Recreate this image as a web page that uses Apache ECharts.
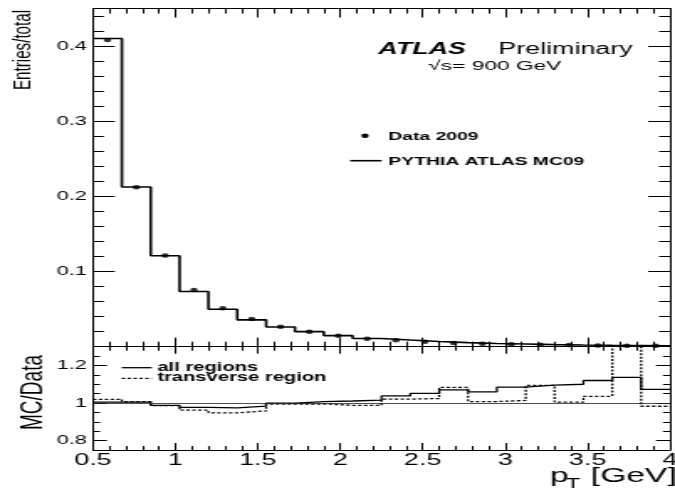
<!DOCTYPE html>
<html>
<head>
<meta charset="utf-8">
<script src="https://cdn.jsdelivr.net/npm/echarts@6/dist/echarts.min.js"></script>
<style>
  html, body { margin: 0; padding: 0; background: #fff; overflow: hidden; }
  #wrap { width: 675px; height: 493px; overflow: hidden; }
  /* the plot is laid out on a narrower canvas and widened, like the original print */
  #chart { width: 402px; height: 493px; transform: scaleX(1.6791); transform-origin: 0 0; }
</style>
</head>
<body>
<div id="wrap"><div id="chart"></div></div>
<script>
// pT bin edges and centres [GeV]
const binEdges = [0.5, 0.675, 0.85, 1.025, 1.2, 1.375, 1.55, 1.725, 1.9, 2.075, 2.25,
                  2.425, 2.6, 2.775, 2.95, 3.125, 3.3, 3.475, 3.65, 3.825, 4.0];
const binCenters = [0.5875, 0.7625, 0.9375, 1.1125, 1.2875, 1.4625, 1.6375, 1.8125, 1.9875, 2.1625,
                    2.3375, 2.5125, 2.6875, 2.8625, 3.0375, 3.2125, 3.3875, 3.5625, 3.7375, 3.9125];

// Entries/total per bin
const dataFrac = [0.408, 0.212, 0.1215, 0.0755, 0.0512, 0.0368, 0.0267, 0.0200, 0.0147, 0.0107,
                  0.0085, 0.0067, 0.0050, 0.0040, 0.0032, 0.0026, 0.0021, 0.0017, 0.0014, 0.0012];
const mcFrac   = [0.410, 0.2125, 0.1210, 0.0735, 0.0498, 0.0357, 0.0262, 0.0200, 0.0148, 0.0109,
                  0.0089, 0.0070, 0.0054, 0.0042, 0.0035, 0.0028, 0.0023, 0.0019, 0.0016, 0.0013];

// MC/Data ratios
const ratioAll   = [1.005, 1.005, 0.988, 0.977, 0.974, 0.984, 1.000, 1.008, 1.011, 1.016,
                    1.038, 1.052, 1.070, 1.059, 1.085, 1.095, 1.100, 1.120, 1.137, 1.073];
const ratioTrans = [1.020, 1.008, 0.986, 0.962, 0.948, 0.958, 0.995, 0.995, 0.988, 0.988,
                    1.021, 1.024, 1.083, 1.008, 1.014, 1.094, 1.005, 1.036, 1.450, 0.983];

// tick labels
const xMajorTicks = [0.5, 1, 1.5, 2, 2.5, 3, 3.5, 4];
const xTickLabels = ['0.5', '1', '1.5', '2', '2.5', '3', '3.5', '4'];
const fracMajorTicks = [0.1, 0.2, 0.3, 0.4];
const fracTickLabels = ['0.1', '0.2', '0.3', '0.4'];
const ratioMajorTicks = [0.8, 1, 1.2];
const ratioTickLabels = ['0.8', '1', '1.2'];

const BLACK = '#000';
const FONT = '"Liberation Sans", Arial, Helvetica, sans-serif';

function steps(a, b, d) {
  const out = [];
  for (let v = a; v <= b + 1e-9; v += d) out.push(+v.toFixed(4));
  return out;
}
const xMinorTicks = steps(0.5, 4, 0.1);
const fracMinorTicks = steps(0.02, 0.44, 0.02);
const ratioMinorTicks = steps(0.75, 1.3, 0.05);

// histogram outline: one point per bin edge, the last bin value repeated at the upper edge
function histo(values) {
  return binEdges.map((e, i) => [e, values[Math.min(i, values.length - 1)]]);
}

function labelFor(ticks, labels) {
  return v => {
    const i = ticks.findIndex(t => Math.abs(t - v) < 1e-6);
    return i >= 0 ? labels[i] : '';
  };
}

function axis(dim, grid, pos, min, max, ticks, len, showLine, label) {
  return {
    type: 'value', gridIndex: grid, position: pos, min: min, max: max,
    splitLine: { show: false },
    minorTick: { show: false },
    axisLine: { show: showLine, onZero: false, lineStyle: { color: BLACK, width: 1 } },
    axisTick: { show: true, inside: true, length: len, customValues: ticks,
                lineStyle: { color: BLACK, width: 1 } },
    axisLabel: label || { show: false },
    silent: true
  };
}

const GRID_LEFT = 55.4, GRID_RIGHT = 3.0;

const option = {
  animation: false,
  textStyle: { fontFamily: FONT },
  grid: [
    { left: GRID_LEFT, right: GRID_RIGHT, top: 8.5, height: 338.2, containLabel: false, outerBoundsMode: 'none' },
    { left: GRID_LEFT, right: GRID_RIGHT, top: 346.7, height: 103.3, containLabel: false, outerBoundsMode: 'none' }
  ],
  xAxis: [
    axis('x', 0, 'bottom', 0.5, 4, xMajorTicks, 9, true),
    axis('x', 0, 'bottom', 0.5, 4, xMinorTicks, 5, false),
    axis('x', 0, 'top', 0.5, 4, xMajorTicks, 9, true),
    axis('x', 0, 'top', 0.5, 4, xMinorTicks, 5, false),
    axis('x', 1, 'bottom', 0.5, 4, xMajorTicks, 7, true, {
      show: true, customValues: xMajorTicks, formatter: labelFor(xMajorTicks, xTickLabels),
      fontSize: 16, color: BLACK, margin: 2.5, fontFamily: FONT
    }),
    axis('x', 1, 'bottom', 0.5, 4, xMinorTicks, 4, false),
    axis('x', 1, 'top', 0.5, 4, xMajorTicks, 7, true),
    axis('x', 1, 'top', 0.5, 4, xMinorTicks, 4, false)
  ],
  yAxis: [
    axis('y', 0, 'left', 0, 0.45, fracMajorTicks, 13, true, {
      show: true, customValues: fracMajorTicks, formatter: labelFor(fracMajorTicks, fracTickLabels),
      fontSize: 13, color: BLACK, margin: 3.6, fontFamily: FONT
    }),
    axis('y', 0, 'left', 0, 0.45, fracMinorTicks, 6.5, false),
    axis('y', 0, 'right', 0, 0.45, fracMajorTicks, 13, true),
    axis('y', 0, 'right', 0, 0.45, fracMinorTicks, 6.5, false),
    axis('y', 1, 'left', 0.75, 1.3, ratioMajorTicks, 8.3, true, {
      show: true, customValues: ratioMajorTicks, formatter: labelFor(ratioMajorTicks, ratioTickLabels),
      fontSize: 13, color: BLACK, margin: 3.6, fontFamily: FONT
    }),
    axis('y', 1, 'left', 0.75, 1.3, ratioMinorTicks, 4.2, false),
    axis('y', 1, 'right', 0.75, 1.3, ratioMajorTicks, 8.3, true),
    axis('y', 1, 'right', 0.75, 1.3, ratioMinorTicks, 4.2, false)
  ],
  series: [
    {
      type: 'line', name: 'PYTHIA ATLAS MC09', xAxisIndex: 0, yAxisIndex: 0,
      step: 'end', data: histo(mcFrac), symbol: 'none', silent: true, z: 3,
      lineStyle: { color: BLACK, width: 1.6 }
    },
    {
      type: 'scatter', name: 'Data 2009', xAxisIndex: 0, yAxisIndex: 0,
      data: binCenters.map((x, i) => [x, dataFrac[i]]), symbol: 'circle', symbolSize: 4.5,
      itemStyle: { color: BLACK }, silent: true, z: 4
    },
    {
      type: 'line', name: 'all regions', xAxisIndex: 4, yAxisIndex: 4,
      step: 'end', data: histo(ratioAll), symbol: 'none', silent: true, z: 3,
      lineStyle: { color: BLACK, width: 1.3 },
      markLine: {
        silent: true, symbol: 'none', label: { show: false },
        lineStyle: { color: '#222', width: 0.8, type: 'solid' },
        data: [{ yAxis: 1 }]
      }
    },
    {
      type: 'line', name: 'transverse region', xAxisIndex: 4, yAxisIndex: 4,
      step: 'end', data: histo(ratioTrans), symbol: 'none', silent: true, z: 3,
      lineStyle: { color: BLACK, width: 1.3, type: [2, 1.5] }
    }
  ],
  graphic: [
    // axis titles
    { type: 'text', x: 13.7, y: 50, rotation: Math.PI / 2, silent: true,
      style: { text: 'Entries/total', fontSize: 15.2, fontFamily: FONT, fill: BLACK,
               textAlign: 'center', textVerticalAlign: 'middle' } },
    { type: 'text', x: 20.2, y: 392.5, rotation: Math.PI / 2, silent: true,
      style: { text: 'MC/Data', fontSize: 19, fontFamily: FONT, fill: BLACK,
               textAlign: 'center', textVerticalAlign: 'middle' } },
    { type: 'text', x: 327.6, y: 476, silent: true,
      style: { text: 'p', fontSize: 20, fontFamily: FONT, fill: BLACK,
               textAlign: 'left', textVerticalAlign: 'middle' } },
    { type: 'text', x: 337.0, y: 483.8, silent: true,
      style: { text: 'T', fontSize: 14, fontFamily: FONT, fill: BLACK,
               textAlign: 'left', textVerticalAlign: 'middle' } },
    { type: 'text', x: 403, y: 476, silent: true,
      style: { text: '[GeV]', fontSize: 20, fontFamily: FONT, fill: BLACK,
               textAlign: 'right', textVerticalAlign: 'middle' } },
    // experiment label
    { type: 'text', x: 225.3, y: 49.3, silent: true,
      style: { text: 'ATLAS', fontSize: 16, fontWeight: 'bold', fontStyle: 'italic', fontFamily: FONT,
               fill: BLACK, textAlign: 'left', textVerticalAlign: 'middle' } },
    { type: 'text', x: 296.8, y: 49.3, silent: true,
      style: { text: 'Preliminary', fontSize: 16, fontFamily: FONT, fill: BLACK,
               textAlign: 'left', textVerticalAlign: 'middle' } },
    { type: 'text', x: 255.1, y: 66, silent: true,
      style: { text: '\u221As= 900 GeV', fontSize: 13.5, fontFamily: FONT, fill: BLACK,
               textAlign: 'left', textVerticalAlign: 'middle' } },
    // legend, upper panel
    { type: 'circle', silent: true, shape: { cx: 217.4, cy: 135.7, r: 2.2 }, style: { fill: BLACK } },
    { type: 'text', x: 231.3, y: 136.5, silent: true,
      style: { text: 'Data 2009', fontSize: 11.5, fontWeight: 'bold', fontFamily: FONT, fill: BLACK,
               textAlign: 'left', textVerticalAlign: 'middle' } },
    { type: 'line', silent: true, shape: { x1: 208.5, y1: 160.7, x2: 227.3, y2: 160.7 },
      style: { stroke: BLACK, lineWidth: 1.6 } },
    { type: 'text', x: 231.3, y: 161.8, silent: true,
      style: { text: 'PYTHIA ATLAS MC09', fontSize: 11.5, fontWeight: 'bold', fontFamily: FONT, fill: BLACK,
               textAlign: 'left', textVerticalAlign: 'middle' } },
    // legend, ratio panel
    { type: 'line', silent: true, shape: { x1: 72.5, y1: 367.7, x2: 90.4, y2: 367.7 },
      style: { stroke: BLACK, lineWidth: 1.3 } },
    { type: 'text', x: 93.7, y: 367.5, silent: true,
      style: { text: 'all regions', fontSize: 12, fontWeight: 'bold', fontFamily: FONT, fill: BLACK,
               textAlign: 'left', textVerticalAlign: 'middle' } },
    { type: 'line', silent: true, shape: { x1: 72.5, y1: 378.3, x2: 90.4, y2: 378.3 },
      style: { stroke: BLACK, lineWidth: 1.3, lineDash: [2, 1.5] } },
    { type: 'text', x: 93.7, y: 377.7, silent: true,
      style: { text: 'transverse region', fontSize: 12, fontWeight: 'bold', fontFamily: FONT, fill: BLACK,
               textAlign: 'left', textVerticalAlign: 'middle' } }
  ]
};

const chart = echarts.init(document.getElementById('chart'), null, { renderer: 'canvas' });
chart.setOption(option);
</script>
</body>
</html>
